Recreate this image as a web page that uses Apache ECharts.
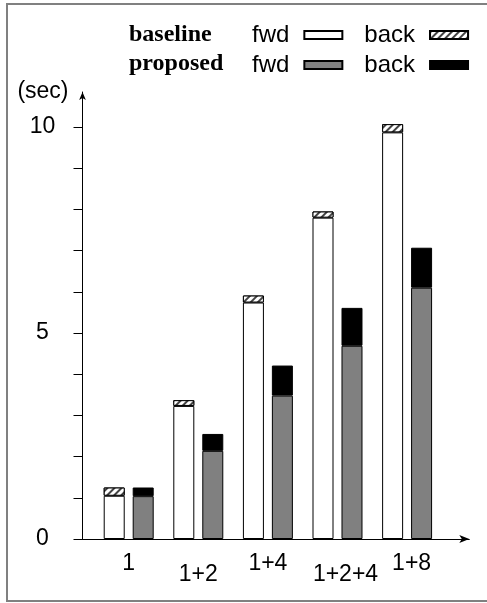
<!DOCTYPE html>
<html>
<head>
<meta charset="utf-8">
<script src="https://cdn.jsdelivr.net/npm/echarts@6/dist/echarts.min.js"></script>
<style>html,body{margin:0;padding:0;background:#fff}#c{width:487px;height:603px}</style>
</head>
<body>
<div id="c"></div>
<script>
var categories = ['1', '1+2', '1+4', '1+2+4', '1+8'];
var baselineFwd = [1.05, 3.23, 5.74, 7.80, 9.87];
var baselineBack = [0.20, 0.14, 0.17, 0.15, 0.20];
var proposedFwd = [1.04, 2.14, 3.48, 4.69, 6.10];
var proposedBack = [0.21, 0.41, 0.73, 0.92, 0.97];
var yTickValues = [0, 1, 2, 3, 4, 5, 6, 7, 8, 9, 10];
var yLabelValues = [0, 5, 10];
var yMax = 10.85;

var chart = echarts.init(document.getElementById('c'), null, {renderer: 'canvas'});
var sans = 'Liberation Sans';
var hatch = {
  symbol: 'rect', symbolSize: 1, rotation: -Math.PI / 4,
  dashArrayX: [1, 0], dashArrayY: [1.5, 2.5],
  color: '#444', backgroundColor: '#fff'
};
function bar(name, stack, data, color, decal) {
  var s = {
    name: name, type: 'bar', stack: stack, data: data,
    xAxisIndex: 0, yAxisIndex: 0,
    barWidth: 21, barGap: '38%',
    itemStyle: {color: color, borderColor: '#000', borderWidth: 1},
    emphasis: {disabled: true}, animation: false
  };
  if (decal) s.itemStyle.decal = decal;
  return s;
}
var labelStyles = ['a', 'b', 'a', 'c', 'd'];
var legendCommon = {
  left: 252, width: 300, padding: 0, orient: 'horizontal', align: 'right',
  itemWidth: 38, itemHeight: 8, itemGap: 21, icon: 'rect',
  selectedMode: false,
  formatter: function (n) { return n.split(' ')[1]; },
  textStyle: {fontSize: 24, fontFamily: sans, color: '#000', padding: [0, 10, 0, 0]}
};
var option = {
  animation: false,
  backgroundColor: '#fff',
  grid: [
    {left: 93.9, right: 45.1, top: 92, bottom: 64},
    {left: 82.5, right: 17.7, top: 92, bottom: 64}
  ],
  legend: [
    Object.assign({}, legendCommon, {top: 23, data: ['baseline fwd', 'baseline back']}),
    Object.assign({}, legendCommon, {top: 53, data: ['proposed fwd', 'proposed back']})
  ],
  graphic: [
    {type: 'rect', silent: true, z: -10, shape: {x: 7, y: 4, width: 520, height: 597},
     style: {fill: 'none', stroke: '#808080', lineWidth: 2}},
    {type: 'text', left: 129, top: 23, style: {text: 'baseline', font: 'bold 24px "Liberation Serif"', fill: '#000'}},
    {type: 'text', left: 129, top: 52, style: {text: 'proposed', font: 'bold 24px "Liberation Serif"', fill: '#000'}}
  ],
  xAxis: [
    {type: 'category', gridIndex: 0, data: categories,
     axisLine: {show: false}, axisTick: {show: false}, splitLine: {show: false},
     axisLabel: {
       interval: 0, margin: 13, color: '#000', fontSize: 23, fontFamily: sans,
       formatter: function (v, i) { return '{' + labelStyles[i] + '|' + v + '}'; },
       rich: {
         a: {fontSize: 23, fontFamily: sans, color: '#000', padding: [0, 0, 0, 0]},
         b: {fontSize: 23, fontFamily: sans, color: '#000', padding: [11, 0, 0, 0]},
         c: {fontSize: 23, fontFamily: sans, color: '#000', padding: [11, 0, 0, 16]},
         d: {fontSize: 23, fontFamily: sans, color: '#000', padding: [0, 0, 0, 9]}
       }
     }},
    {type: 'value', gridIndex: 1, min: 0, max: 1,
     axisLine: {show: true, symbol: ['none', 'arrow'], symbolSize: [6, 10], lineStyle: {color: '#000', width: 1}},
     axisTick: {show: false}, axisLabel: {show: false}, splitLine: {show: false}}
  ],
  yAxis: [
    {type: 'value', gridIndex: 0, min: 0, max: yMax, show: false, splitLine: {show: false}},
    {type: 'value', gridIndex: 1, min: 0, max: yMax,
     name: '(sec)', nameLocation: 'end', nameGap: 0,
     nameTextStyle: {fontSize: 23, fontFamily: sans, color: '#000', align: 'right', verticalAlign: 'middle', padding: [0, 14, 0, 0]},
     axisLine: {show: true, symbol: ['none', 'arrow'], symbolSize: [5, 8], lineStyle: {color: '#000', width: 1}},
     axisTick: {show: true, customValues: yTickValues, length: 9, lineStyle: {color: '#000'}},
     axisLabel: {show: true, customValues: yLabelValues, align: 'center', margin: 40, fontSize: 23, fontFamily: sans, color: '#000'},
     splitLine: {show: false}}
  ],
  series: [
    bar('baseline fwd', 'base', baselineFwd, '#fff'),
    bar('baseline back', 'base', baselineBack, '#fff', hatch),
    bar('proposed fwd', 'prop', proposedFwd, '#808080'),
    bar('proposed back', 'prop', proposedBack, '#000')
  ]
};
chart.setOption(option);
</script>
</body>
</html>
